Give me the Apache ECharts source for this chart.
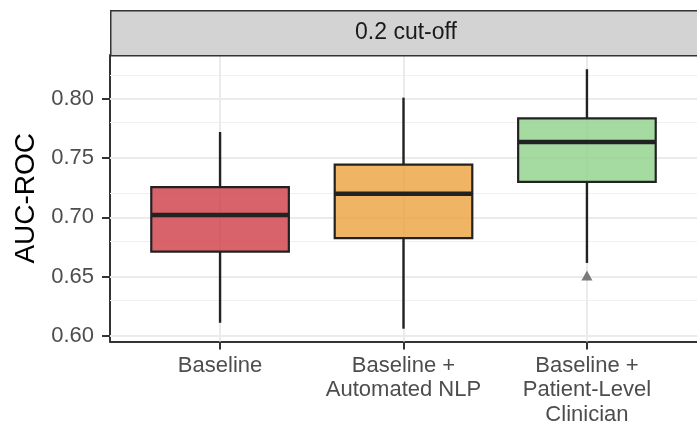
<!DOCTYPE html>
<html>
<head>
<meta charset="utf-8">
<script src="https://cdn.jsdelivr.net/npm/echarts@6/dist/echarts.min.js"></script>
<style>html,body{margin:0;padding:0;background:#fff}#c{width:697px;height:427px}</style>
</head>
<body>
<div id="c"></div>
<script>
// ---- data ----
const categories = ['Baseline', 'Baseline +\nAutomated NLP', 'Baseline +\nPatient-Level\nClinician'];
const catPositions = [1, 2, 3];
// [min, Q1, median, Q3, max]
const boxBaseline = [0.611, 0.671, 0.702, 0.7255, 0.772];
const boxNLP = [0.606, 0.6825, 0.720, 0.7445, 0.801];
const boxClinician = [0.6615, 0.730, 0.7635, 0.7835, 0.825];
const outliers = [[3, 0.651]];
const yTicks = [0.60, 0.65, 0.70, 0.75, 0.80];
const yMinorTicks = [0.625, 0.675, 0.725, 0.775, 0.825];
const stripLabel = '0.2 cut-off';
const yTitle = 'AUC-ROC';

const fills = ['rgba(208,60,69,0.8)', 'rgba(235,162,62,0.8)', 'rgba(143,210,136,0.8)'];
const boxes = [boxBaseline, boxNLP, boxClinician];
const boxData = boxes.map((b, i) => [catPositions[i]].concat(b));

const FONT = '"Liberation Sans", Arial, sans-serif';
const chart = echarts.init(document.getElementById('c'), null, {renderer: 'canvas'});

const gridLines = [];
yMinorTicks.forEach(v => gridLines.push({yAxis: v, lineStyle: {color: '#f0f0f0', width: 1, type: 'solid'}}));
yTicks.forEach(v => gridLines.push({yAxis: v, lineStyle: {color: '#ebebeb', width: 2, type: 'solid'}}));
catPositions.forEach(v => gridLines.push({xAxis: v, lineStyle: {color: '#ebebeb', width: 2, type: 'solid'}}));

chart.setOption({
  animation: false,
  backgroundColor: '#fff',
  grid: {left: 110, top: 55, width: 592, bottom: 84, containLabel: false},
  graphic: [
    {type: 'rect', left: 110, top: 10, shape: {width: 600, height: 45}, style: {fill: '#d3d3d3', stroke: '#333', lineWidth: 1.5}, z: 10},
    {type: 'text', x: 406, y: 33, style: {text: stripLabel, font: '23px ' + FONT, fill: '#1a1a1a', align: 'center', verticalAlign: 'middle'}, z: 11}
  ],
  xAxis: {
    type: 'value', min: 0.4, max: 3.6,
    splitLine: {show: false},
    axisLine: {show: true, onZero: false, lineStyle: {color: '#333', width: 2}},
    axisTick: {show: true, length: 8, customValues: catPositions, lineStyle: {color: '#333', width: 2}},
    axisLabel: {
      customValues: catPositions, margin: 12, color: '#4d4d4d', fontSize: 22, fontFamily: FONT, lineHeight: 24.5,
      formatter: v => categories[catPositions.indexOf(Math.round(v))] || ''
    }
  },
  yAxis: {
    type: 'value', min: 0.5952, max: 0.837,
    name: yTitle, nameLocation: 'middle', nameRotate: 90, nameGap: 70,
    nameTextStyle: {fontSize: 28, fontFamily: FONT, color: '#000'},
    splitLine: {show: false},
    axisLine: {show: true, onZero: false, lineStyle: {color: '#333', width: 2}},
    axisTick: {show: true, length: 8, customValues: yTicks, lineStyle: {color: '#333', width: 2}},
    axisLabel: {customValues: yTicks, margin: 16, color: '#4d4d4d', fontSize: 22, fontFamily: FONT, formatter: v => v.toFixed(2)}
  },
  series: [
    {
      type: 'line', data: [], silent: true, z: 1,
      markLine: {silent: true, z: 1, symbol: ['none', 'none'], label: {show: false}, animation: false, data: gridLines}
    },
    {
      type: 'custom', z: 3, data: boxData,
      renderItem: function (params, api) {
        const x = api.value(0);
        const mn = api.value(1), q1 = api.value(2), md = api.value(3), q3 = api.value(4), mx = api.value(5);
        const w = api.size([0.75, 0])[0];
        const pMin = api.coord([x, mn]), pQ1 = api.coord([x, q1]), pMd = api.coord([x, md]), pQ3 = api.coord([x, q3]), pMx = api.coord([x, mx]);
        const idx = params.dataIndex;
        return {
          type: 'group',
          children: [
            {type: 'line', shape: {x1: pQ3[0], y1: pQ3[1], x2: pMx[0], y2: pMx[1]}, style: {stroke: '#222', lineWidth: 2.4}},
            {type: 'line', shape: {x1: pQ1[0], y1: pQ1[1], x2: pMin[0], y2: pMin[1]}, style: {stroke: '#222', lineWidth: 2.4}},
            {type: 'rect', shape: {x: pQ3[0] - w / 2, y: pQ3[1], width: w, height: pQ1[1] - pQ3[1]}, style: {fill: fills[idx], stroke: '#222', lineWidth: 2.2}},
            {type: 'line', shape: {x1: pMd[0] - w / 2, y1: pMd[1], x2: pMd[0] + w / 2, y2: pMd[1]}, style: {stroke: '#222', lineWidth: 4.5}}
          ]
        };
      }
    },
    {
      type: 'scatter', z: 4, data: outliers, symbol: 'triangle', symbolSize: [11, 10],
      itemStyle: {color: '#6e6e6e', opacity: 0.9}
    }
  ]
});
</script>
</body>
</html>
